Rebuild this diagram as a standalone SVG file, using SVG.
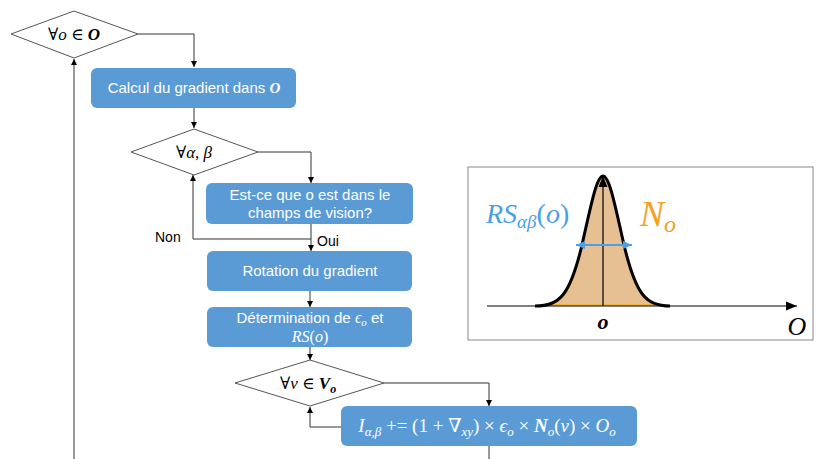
<svg xmlns="http://www.w3.org/2000/svg" width="816" height="459" viewBox="0 0 816 459">
<defs>
<marker id="ah" markerWidth="6" markerHeight="6" refX="6" refY="3" orient="auto" markerUnits="userSpaceOnUse">
<path d="M0,0 L6,3 L0,6 Z" fill="#000"/>
</marker>
<marker id="ahb" markerWidth="10" markerHeight="10" refX="9" refY="5" orient="auto" markerUnits="userSpaceOnUse">
<path d="M0,1 L9,5 L0,9 Z" fill="#4a9fe6"/>
</marker>
<marker id="ahk" markerWidth="12" markerHeight="12" refX="11" refY="6" orient="auto" markerUnits="userSpaceOnUse">
<path d="M0,1.5 L11,6 L0,10.5 Z" fill="#000"/>
</marker>
</defs>
<style>
.dia{fill:#fff;stroke:#555;stroke-width:1}
.box{fill:#5b9bd5;stroke:none}
.bt{font-family:"Liberation Sans",Arial,sans-serif;font-size:15px;fill:#fff;text-anchor:middle}
.mt{font-family:"Liberation Serif","DejaVu Serif",serif;font-size:17px;fill:#000;text-anchor:middle}
.mw{font-family:"Liberation Serif","DejaVu Serif",serif;fill:#fff}
.lbl{font-family:"Liberation Sans",Arial,sans-serif;font-size:14px;fill:#000}
.con{fill:none;stroke:#333;stroke-width:1}
.i{font-style:italic}
.bi{font-style:italic;font-weight:bold}
</style>
<rect width="816" height="459" fill="#fff"/>

<g id="connectors">
<path class="con" d="M138,34 H194 V67" marker-end="url(#ah)"/>
<path class="con" d="M194,108 V128" marker-end="url(#ah)"/>
<path class="con" d="M258,152 H311 V183" marker-end="url(#ah)"/>
<path class="con" d="M311,224 V251" marker-end="url(#ah)"/>
<path class="con" d="M311,239 H193 V175" marker-end="url(#ah)"/>
<path class="con" d="M310,291 V307" marker-end="url(#ah)"/>
<path class="con" d="M310,347 V360" marker-end="url(#ah)"/>
<path class="con" d="M384,383 H489 V406" marker-end="url(#ah)"/>
<path class="con" d="M341,427 H310 V407" marker-end="url(#ah)"/>
<path class="con" d="M489,446 V459"/>
<path class="con" d="M74,459 V59" marker-end="url(#ah)"/>
<text class="lbl" x="155" y="242">Non</text>
<text class="lbl" x="317" y="246">Oui</text>
</g>

<g id="loop-o">
<polygon class="dia" points="11,34 74,11 138,34 74,58"/>
<text class="mt" x="74" y="40">∀<tspan class="i">o</tspan> ∈ <tspan class="bi">O</tspan></text>
</g>

<g id="calcul">
<rect class="box" x="91" y="68" width="205" height="40" rx="6"/>
<text class="bt" x="194" y="93">Calcul du gradient dans <tspan class="bi" font-family="Liberation Serif,serif">O</tspan></text>
</g>

<g id="loop-ab">
<polygon class="dia" points="131,152 194,129 258,152 194,175"/>
<text class="mt" x="194" y="158">∀<tspan class="i">α</tspan>, <tspan class="i">β</tspan></text>
</g>

<g id="vision">
<rect class="box" x="206" y="183" width="207" height="41" rx="6"/>
<text class="bt" x="310" y="200">Est-ce que o est dans le</text>
<text class="bt" x="310" y="218">champs de vision?</text>
</g>

<g id="rotation">
<rect class="box" x="207" y="251" width="205" height="40" rx="6"/>
<text class="bt" x="310" y="276">Rotation du gradient</text>
</g>

<g id="determination">
<rect class="box" x="207" y="307" width="205" height="40" rx="6"/>
<text class="bt" x="310" y="323">Détermination de <tspan class="mw i" font-size="16">ϵ</tspan><tspan class="mw i" font-size="11" dy="3">o</tspan><tspan dy="-3"> et</tspan></text>
<text class="bt" x="310" y="342"><tspan class="mw i" font-size="16">RS</tspan><tspan class="mw" font-size="16">(</tspan><tspan class="mw i" font-size="16">o</tspan><tspan class="mw" font-size="16">)</tspan></text>
</g>

<g id="loop-v">
<polygon class="dia" points="235,383 310,360 384,383 310,406"/>
<text class="mt" x="308" y="389">∀<tspan class="i">v</tspan> ∈ <tspan class="bi">V</tspan><tspan class="bi" font-size="12" dy="4">o</tspan></text>
</g>

<g id="accumulate">
<rect class="box" x="341" y="406" width="296" height="40" rx="6"/>
<text class="mw" x="487" y="432" font-size="19" text-anchor="middle"><tspan class="i">I</tspan><tspan class="i" font-size="13" dy="4">α,β</tspan><tspan dy="-4"> += (1 + ∇</tspan><tspan class="i" font-size="13" dy="4">xy</tspan><tspan dy="-4">) × </tspan><tspan class="i">ϵ</tspan><tspan class="i" font-size="13" dy="4">o</tspan><tspan dy="-4"> × </tspan><tspan class="bi">N</tspan><tspan class="i" font-size="13" dy="4">o</tspan><tspan dy="-4">(</tspan><tspan class="i">v</tspan><tspan>) × </tspan><tspan class="i">O</tspan><tspan class="i" font-size="13" dy="4">o</tspan></text>
</g>

<g id="gaussian-panel">
<rect x="468" y="167" width="345" height="173" fill="#fff" stroke="#888" stroke-width="1"/>
<path d="M550,305 C575,300 582,245 590,210 C596,180 600,176 603,176 C606,176 610,180 616,210 C624,245 631,300 656,305 Z" fill="#e6bf93" stroke="#f0b020" stroke-width="1.5"/>
<line x1="487" y1="306" x2="797" y2="306" stroke="#000" stroke-width="1.2" marker-end="url(#ahk)"/>
<line x1="603" y1="306" x2="603" y2="176" stroke="#000" stroke-width="1.2" marker-end="url(#ahk)"/>
<path d="M535,306 C560,306 570,295 582,245 C592,200 597,176 603,176 C609,176 614,200 624,245 C636,295 646,306 670,306" fill="none" stroke="#000" stroke-width="3"/>
<line x1="586" y1="245" x2="621" y2="245" stroke="#4a9fe6" stroke-width="2"/>
<line x1="590" y1="245" x2="576" y2="245" stroke="#4a9fe6" stroke-width="2" marker-end="url(#ahb)"/>
<line x1="618" y1="245" x2="632" y2="245" stroke="#4a9fe6" stroke-width="2" marker-end="url(#ahb)"/>
<text x="486" y="223" font-family="Liberation Serif,serif" font-size="28" fill="#4a9fe6"><tspan font-style="italic">RS</tspan><tspan font-style="italic" font-size="19" dy="5">αβ</tspan><tspan dy="-5">(</tspan><tspan font-style="italic">o</tspan><tspan>)</tspan></text>
<text x="640" y="226" font-family="Liberation Serif,serif" font-size="36" fill="#f5a020" font-style="italic">N<tspan font-size="24" dy="6">o</tspan></text>
<text x="603" y="329" font-family="Liberation Serif,serif" font-size="22" font-style="italic" font-weight="bold" text-anchor="middle">o</text>
<text x="797" y="335" font-family="Liberation Serif,serif" font-size="26" font-style="italic" text-anchor="middle">O</text>
</g>
</svg>
